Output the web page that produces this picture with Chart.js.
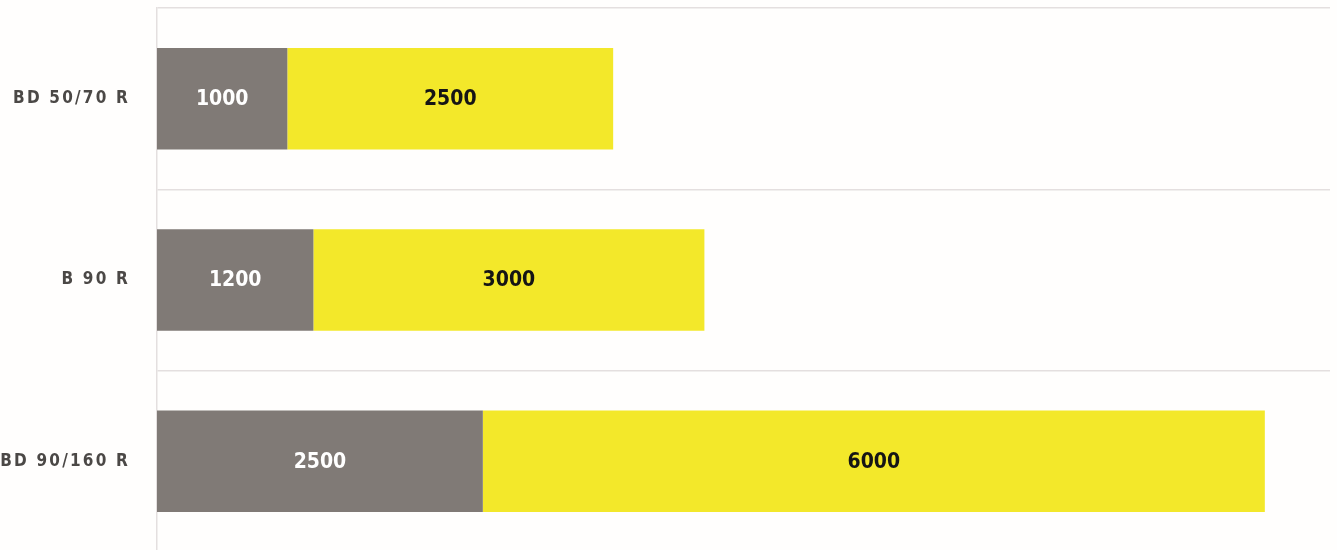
<!DOCTYPE html>
<html>
<head>
<meta charset="utf-8">
<script src="https://cdn.jsdelivr.net/npm/chart.js@4"></script>
<style>
  html, body { margin: 0; padding: 0; background: #fffefd; overflow: hidden; }
  #chart { display: block; }
</style>
</head>
<body>
<canvas id="chart" width="1337" height="553"></canvas>
<script>
// data
const models = ['BD 50/70 R', 'B 90 R', 'BD 90/160 R']
const greyValues = [1000, 1200, 2500]
const yellowValues = [2500, 3000, 6000]

const GREY = '#807a76'
const YELLOW = '#f3e82a'

// draws the number in the middle of every bar segment
const segmentLabels = {
    id: 'segmentLabels',
    afterDatasetsDraw(chart) {
        const ctx = chart.ctx
        ctx.save()
        ctx.letterSpacing = '0px'
        ctx.font = "bold 21px 'DejaVu Sans Condensed', 'DejaVu Sans', sans-serif"
        ctx.textAlign = 'center'
        ctx.textBaseline = 'middle'
        chart.data.datasets.forEach((ds, i) => {
            const meta = chart.getDatasetMeta(i)
            meta.data.forEach((bar, j) => {
                ctx.fillStyle = ds.labelColor
                ctx.fillText(String(ds.data[j]), (bar.x + bar.base) / 2, bar.y + 1)
            })
        })
        ctx.restore()
    }
}

// category labels on the left are letter-spaced
const spacedTicks = {
    id: 'spacedTicks',
    beforeDraw(chart) { chart.ctx.letterSpacing = '2.2px' },
    beforeDatasetsDraw(chart) { chart.ctx.letterSpacing = '0px' }
}

new Chart(document.getElementById('chart'), {
    type: 'bar',
    data: {
        labels: models,
        datasets: [
            {
                label: 'grey',
                data: greyValues,
                backgroundColor: GREY,
                labelColor: '#ffffff',
                barPercentage: 0.56,
                categoryPercentage: 1
            },
            {
                label: 'yellow',
                data: yellowValues,
                backgroundColor: YELLOW,
                labelColor: '#151515',
                barPercentage: 0.56,
                categoryPercentage: 1
            }
        ]
    },
    options: {
        indexAxis: 'y',
        responsive: false,
        animation: false,
        layout: { padding: { top: 8, right: 7, bottom: 1, left: 0 } },
        plugins: {
            legend: { display: false },
            tooltip: { enabled: false }
        },
        scales: {
            x: {
                stacked: true,
                min: 0,
                max: 9000,
                display: false
            },
            y: {
                stacked: true,
                afterFit: (scale) => {
                    scale.width = 157
                    scale.paddingTop = 0
                    scale.paddingBottom = 0
                },
                grid: {
                    color: '#e4dfdf',
                    lineWidth: 1.5,
                    drawTicks: true,
                    tickLength: 27,
                    tickColor: 'rgba(0,0,0,0)'
                },
                border: { color: '#e4dfdf', width: 1.5 },
                ticks: {
                    padding: 0,
                    color: '#4b4846',
                    font: { family: "'DejaVu Sans Condensed', 'DejaVu Sans', sans-serif", size: 17, weight: 'bold' }
                }
            }
        }
    },
    plugins: [spacedTicks, segmentLabels]
})
</script>
</body>
</html>
